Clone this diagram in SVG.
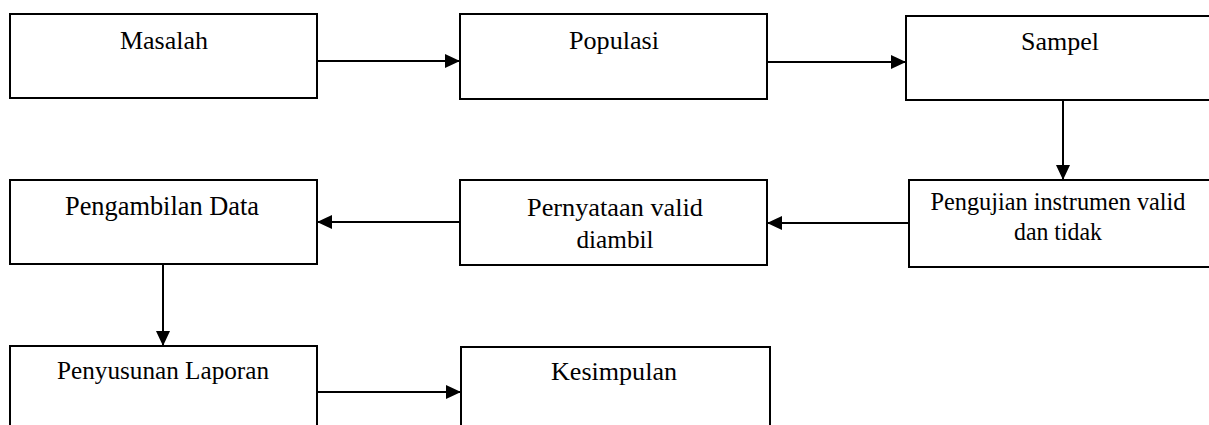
<svg xmlns="http://www.w3.org/2000/svg" width="1209" height="425" viewBox="0 0 1209 425">
<style>
.box{fill:#fff;stroke:#000;stroke-width:2}
.lbl{font-family:"Liberation Serif","Times New Roman",serif;font-size:26px;fill:#000;text-anchor:middle}
.sm{font-size:25px}
.con{stroke:#000;stroke-width:2;fill:none;marker-end:url(#ah)}
</style>
<defs>
<marker id="ah" markerUnits="userSpaceOnUse" markerWidth="16" markerHeight="14" refX="15" refY="7" orient="auto">
<path d="M0,0 L15,7 L0,14 z" fill="#000"/>
</marker>
</defs>
<rect width="1209" height="425" fill="#fff"/>
<g id="masalah"><rect class="box" x="10" y="14" width="307" height="84"/><text class="lbl" x="164" y="49" textLength="88" lengthAdjust="spacingAndGlyphs">Masalah</text></g>
<g id="populasi"><rect class="box" x="460" y="14" width="307" height="85"/><text class="lbl" x="614" y="49" textLength="90" lengthAdjust="spacingAndGlyphs">Populasi</text></g>
<g id="sampel"><rect class="box" x="906" y="16" width="310" height="84"/><text class="lbl" x="1060" y="50" textLength="78" lengthAdjust="spacingAndGlyphs">Sampel</text></g>
<g id="pengujian"><rect class="box" x="909" y="180" width="310" height="87"/><text class="lbl sm" x="1058" y="210" textLength="255" lengthAdjust="spacingAndGlyphs">Pengujian instrumen valid</text><text class="lbl sm" x="1058" y="240" textLength="88" lengthAdjust="spacingAndGlyphs">dan tidak</text></g>
<g id="pernyataan"><rect class="box" x="460" y="180" width="307" height="85"/><text class="lbl" x="615" y="216" textLength="176" lengthAdjust="spacingAndGlyphs">Pernyataan valid</text><text class="lbl" x="615" y="248" textLength="77" lengthAdjust="spacingAndGlyphs">diambil</text></g>
<g id="pengambilan"><rect class="box" x="10" y="180" width="307" height="84"/><text class="lbl" style="font-size:27px" x="162" y="215" textLength="194" lengthAdjust="spacingAndGlyphs">Pengambilan Data</text></g>
<g id="penyusunan"><rect class="box" x="10" y="346" width="307" height="90"/><text class="lbl" x="163" y="379" textLength="212" lengthAdjust="spacingAndGlyphs">Penyusunan Laporan</text></g>
<g id="kesimpulan"><rect class="box" x="461" y="347" width="309" height="90"/><text class="lbl" x="614" y="380" textLength="126" lengthAdjust="spacingAndGlyphs">Kesimpulan</text></g>
<g id="connectors">
<line class="con" x1="317" y1="61" x2="460" y2="61"/>
<line class="con" x1="767" y1="62" x2="906" y2="62"/>
<line class="con" x1="1063" y1="100" x2="1063" y2="180"/>
<line class="con" x1="909" y1="223" x2="767" y2="223"/>
<line class="con" x1="460" y1="222" x2="317" y2="222"/>
<line class="con" x1="163" y1="264" x2="163" y2="346"/>
<line class="con" x1="317" y1="392" x2="461" y2="392"/>
</g>
</svg>
